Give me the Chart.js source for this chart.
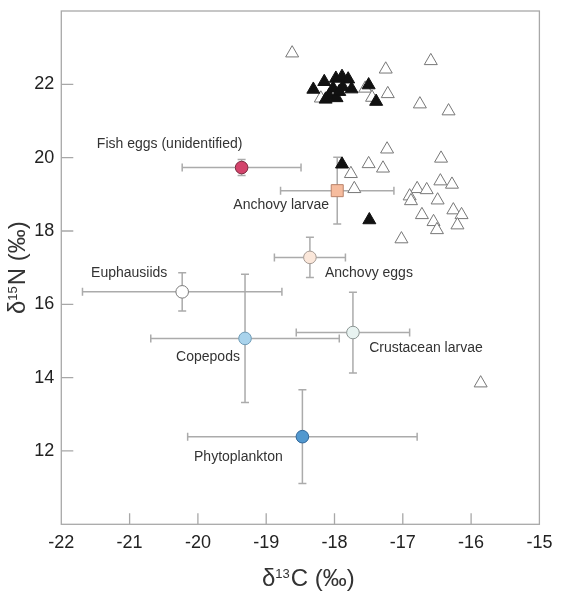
<!DOCTYPE html>
<html>
<head>
<meta charset="utf-8">
<script src="https://cdn.jsdelivr.net/npm/chart.js@4.4.0/dist/chart.umd.min.js"></script>
<style>
  html, body { margin: 0; padding: 0; background: #fff; }
  #wrap { width: 587px; height: 604px; }
</style>
</head>
<body>
<div id="wrap"><canvas id="chart" width="587" height="604"></canvas></div>
<script>
// group means with standard deviations
const groupNames = ['Fish eggs (unidentified)', 'Anchovy larvae', 'Anchovy eggs', 'Euphausiids',
  'Copepods', 'Crustacean larvae', 'Phytoplankton'];
const groupX = [-19.36, -17.96, -18.36, -20.23, -19.31, -17.73, -18.47];
const groupY = [19.73, 19.10, 17.28, 16.34, 15.07, 15.23, 12.39];
const groupXErr = [0.87, 0.83, 0.52, 1.46, 1.38, 0.83, 1.68];
const groupYErr = [0.22, 0.91, 0.55, 0.52, 1.75, 1.10, 1.28];

// individual fish (open triangles)
const openX = [-18.62, -16.59, -17.25, -17.22, -16.75, -16.33, -18.20, -17.55, -17.45, -17.23,
  -17.50, -17.29, -17.76, -16.44, -17.71, -16.79, -16.65, -16.45, -16.28, -16.90,
  -16.88, -16.49, -16.72, -16.55, -16.50, -16.26, -16.14, -16.20, -17.02, -15.86];
const openY = [22.85, 22.64, 22.41, 21.74, 21.46, 21.27, 21.62, 21.89, 21.64, 20.23,
  19.83, 19.71, 19.56, 19.98, 19.15, 19.15, 19.12, 19.36, 19.27, 18.95,
  18.82, 18.84, 18.44, 18.25, 18.03, 18.57, 18.44, 18.16, 17.78, 13.85];

// individual fish (filled triangles)
const filledX = [-18.31, -18.15, -17.98, -17.89, -17.80, -18.02, -17.88, -17.75,
  -18.08, -17.97, -18.13, -17.50, -17.39, -17.93, -17.89, -17.49];
const filledY = [21.86, 22.07, 22.16, 22.21, 22.14, 21.89, 21.93, 21.87,
  21.69, 21.63, 21.59, 21.98, 21.53, 21.80, 19.82, 18.30];

const xTicks = [-22, -21, -20, -19, -18, -17, -16, -15];
const yTicks = [12, 14, 16, 18, 20, 22];

// styling
const groupFill = ['#d3436b', '#f6bc9e', '#fbe7da', '#ffffff', '#a9d3ec', '#e8f3f1', '#5298cf'];
const groupEdge = ['#7d2a3f', '#b9836b', '#a59a93', '#7a7a7a', '#6f9bb6', '#8c9694', '#33689a'];
const groupShape = ['circle', 'rect', 'circle', 'circle', 'circle', 'circle', 'circle'];
const labelOffsets = [[-72, -23], [-56, 14], [59, 16], [-53, -19], [-37, 19], [73, 16], [-64, 20]];

const FONT = '"Liberation Sans", Arial, sans-serif';

const pts = (xs, ys) => xs.map((x, i) => ({ x: x, y: ys[i] }));

const errorBars = {
  id: 'errorBars',
  beforeDatasetsDraw(chart) {
    const { ctx, scales: { x, y } } = chart;
    const cap = 4;
    ctx.save();
    ctx.strokeStyle = '#ababab';
    ctx.lineWidth = 1.5;
    groupX.forEach((gx, i) => {
      const cx = x.getPixelForValue(gx);
      const cy = y.getPixelForValue(groupY[i]);
      const x0 = x.getPixelForValue(gx - groupXErr[i]);
      const x1 = x.getPixelForValue(gx + groupXErr[i]);
      const y0 = y.getPixelForValue(groupY[i] - groupYErr[i]);
      const y1 = y.getPixelForValue(groupY[i] + groupYErr[i]);
      ctx.beginPath();
      ctx.moveTo(x0, cy); ctx.lineTo(x1, cy);
      ctx.moveTo(x0, cy - cap); ctx.lineTo(x0, cy + cap);
      ctx.moveTo(x1, cy - cap); ctx.lineTo(x1, cy + cap);
      ctx.moveTo(cx, y0); ctx.lineTo(cx, y1);
      ctx.moveTo(cx - cap, y0); ctx.lineTo(cx + cap, y0);
      ctx.moveTo(cx - cap, y1); ctx.lineTo(cx + cap, y1);
      ctx.stroke();
    });
    ctx.restore();
  }
};

const frame = {
  id: 'frame',
  afterDraw(chart) {
    const { ctx, chartArea: a, scales: { x, y } } = chart;
    ctx.save();
    ctx.strokeStyle = '#a8a8a8';
    ctx.lineWidth = 1.3;
    ctx.strokeRect(a.left, a.top, a.right - a.left, a.bottom - a.top);
    ctx.beginPath();
    xTicks.slice(1, -1).forEach(v => {
      const px = x.getPixelForValue(v);
      ctx.moveTo(px, a.bottom); ctx.lineTo(px, a.bottom - 11);
    });
    yTicks.forEach(v => {
      const py = y.getPixelForValue(v);
      ctx.moveTo(a.left, py); ctx.lineTo(a.left + 12, py);
    });
    ctx.stroke();

    // group names
    ctx.fillStyle = '#333';
    ctx.font = '14px ' + FONT;
    ctx.textAlign = 'center';
    ctx.textBaseline = 'middle';
    groupNames.forEach((name, i) => {
      const px = x.getPixelForValue(groupX[i]) + labelOffsets[i][0];
      const py = y.getPixelForValue(groupY[i]) + labelOffsets[i][1];
      ctx.fillText(name, px, py);
    });

    // axis titles with superscripts
    const drawTitle = (sup, letter, cx, cy) => {
      const big = '24px ' + FONT, small = '13px ' + FONT;
      ctx.font = big;
      const wd = ctx.measureText('\u03b4').width;
      const wl = ctx.measureText(letter + ' (\u2030)').width;
      ctx.font = small;
      const ws = ctx.measureText(sup).width + 1;
      const left = cx - (wd + ws + wl) / 2;
      ctx.textAlign = 'left';
      ctx.textBaseline = 'alphabetic';
      ctx.fillStyle = '#333';
      ctx.font = big; ctx.fillText('\u03b4', left, cy);
      ctx.font = small; ctx.fillText(sup, left + wd, cy - 8);
      ctx.font = big; ctx.fillText(letter + ' (\u2030)', left + wd + ws, cy);
    };
    drawTitle('13', 'C', (a.left + a.right) / 2 + 8, 586);
    ctx.translate(25, (a.top + a.bottom) / 2);
    ctx.rotate(-Math.PI / 2);
    drawTitle('15', 'N', 0, 0);
    ctx.restore();
  }
};

new Chart(document.getElementById('chart'), {
  type: 'scatter',
  data: {
    datasets: [
      {
        label: 'Groups',
        data: pts(groupX, groupY),
        pointStyle: groupShape,
        pointRadius: groupShape.map(s => s === 'rect' ? 8.5 : 6.3),
        backgroundColor: groupFill,
        borderColor: groupEdge,
        borderWidth: 1
      },
      {
        label: 'Filled',
        data: pts(filledX, filledY),
        pointStyle: 'triangle',
        pointRadius: 7.5,
        backgroundColor: '#111',
        borderColor: '#111',
        borderWidth: 1
      },
      {
        label: 'Open',
        data: pts(openX, openY),
        pointStyle: 'triangle',
        pointRadius: 7.5,
        backgroundColor: '#fff',
        borderColor: '#777',
        borderWidth: 1
      }
    ]
  },
  options: {
    responsive: false,
    animation: false,
    layout: { padding: { top: 11, right: 47.6, left: 0, bottom: 0 } },
    plugins: { legend: { display: false }, tooltip: { enabled: false } },
    elements: { point: { hoverRadius: 7.5 } },
    scales: {
      x: {
        type: 'linear', min: -22, max: -15,
        afterFit: s => { s.height = 79.7; s.paddingLeft = 0; s.paddingRight = 0; },
        afterBuildTicks: s => { s.ticks = xTicks.map(v => ({ value: v })); },
        grid: { display: false, drawTicks: false },
        border: { display: false },
        ticks: { color: '#222', padding: 8, font: { family: FONT, size: 18 } }
      },
      y: {
        type: 'linear', min: 10, max: 24,
        afterFit: s => { s.width = 61.3; s.paddingTop = 0; s.paddingBottom = 0; },
        afterBuildTicks: s => { s.ticks = yTicks.map(v => ({ value: v })); },
        grid: { display: false, drawTicks: false },
        border: { display: false },
        ticks: { color: '#222', padding: 7, font: { family: FONT, size: 18 } }
      }
    }
  },
  plugins: [errorBars, frame]
});
</script>
</body>
</html>
